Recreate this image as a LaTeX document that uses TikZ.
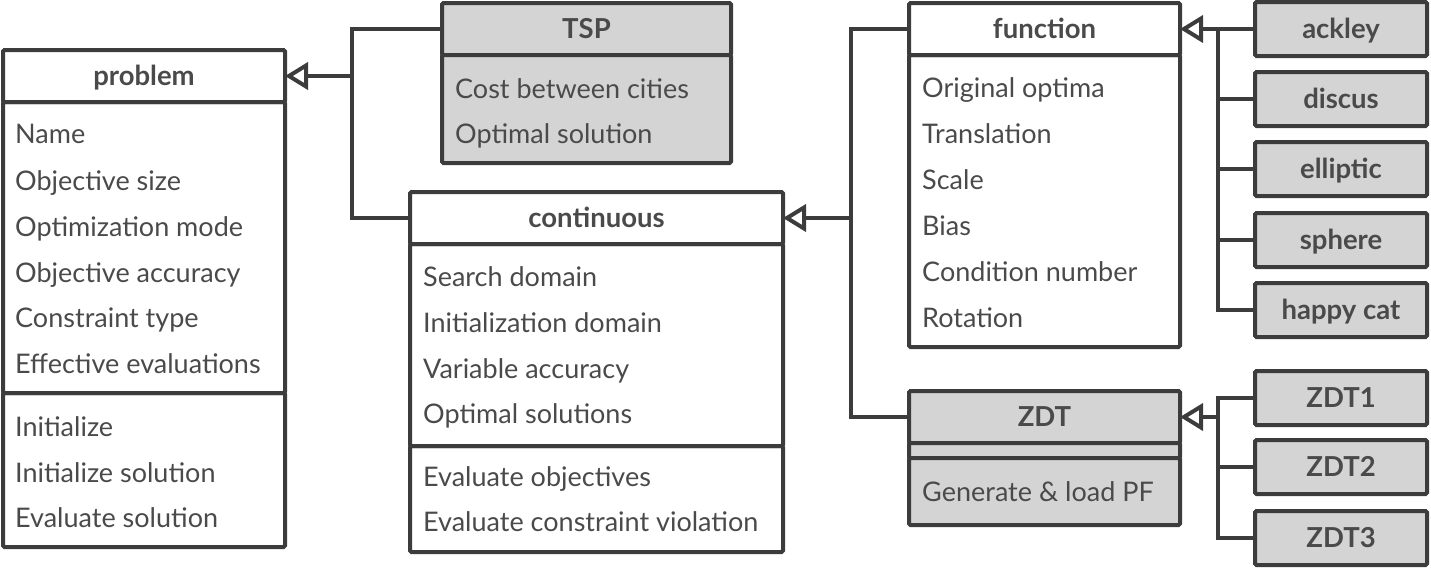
\documentclass[tikz,border=0pt]{standalone}
\usepackage{fontspec}
\setmainfont{Lato}
\usetikzlibrary{arrows.meta}
\definecolor{ln}{HTML}{3C3C3C}
\definecolor{tx}{HTML}{4A4A4A}
\definecolor{gf}{HTML}{D4D4D4}
\begin{document}
\begin{tikzpicture}[x=1pt,y=-1pt,
  box/.style={draw=ln, line width=4pt, rounded corners=1.5pt, anchor=north west,
    inner sep=0pt, outer sep=0pt, text=tx, font=\fontsize{27.5}{32}\selectfont\bfseries,
    text height=23pt, text depth=5pt},
  gbox/.style={box, fill=gf},
  attr/.style={anchor=base west, inner sep=0pt, text=tx, font=\fontsize{27}{32}\selectfont},
  conn/.style={draw=ln, line width=4pt},
  inh/.style={conn, -{Triangle[open, length=23pt, width=27pt, fill=white]}}]
\useasboundingbox (0,0) rectangle (1431,568);

% problem
\node[box, minimum width=282pt, minimum height=52pt] (problemh) at (3,50) {problem};
\node[box, minimum width=282pt, minimum height=291pt] (problema) at (3,102) {};
\node[box, minimum width=282pt, minimum height=154pt] (problemm) at (3,393) {};
\node[attr] (p1) at (15,143) {Name};
\node[attr] (p2) at (15,190) {Objective size};
\node[attr] (p3) at (15,236) {Optimization mode};
\node[attr] (p4) at (15,282) {Objective accuracy};
\node[attr] (p5) at (15,327) {Constraint type};
\node[attr] (p6) at (15,373) {Effective evaluations};
\node[attr] (p7) at (15,436) {Initialize};
\node[attr] (p8) at (15,482) {Initialize solution};
\node[attr] (p9) at (15,527) {Evaluate solution};

% TSP
\node[gbox, minimum width=289pt, minimum height=52pt] (tsph) at (442,3) {TSP};
\node[gbox, minimum width=289pt, minimum height=108pt] (tspa) at (442,55) {};
\node[attr] (t1) at (455,98) {Cost between cities};
\node[attr] (t2) at (455,143) {Optimal solution};

% continuous
\node[box, minimum width=373pt, minimum height=52pt] (conth) at (410,192) {continuous};
\node[box, minimum width=373pt, minimum height=202pt] (conta) at (410,244) {};
\node[box, minimum width=373pt, minimum height=106pt] (contm) at (410,446) {};
\node[attr] (c1) at (423,286) {Search domain};
\node[attr] (c2) at (423,332) {Initialization domain};
\node[attr] (c3) at (423,378) {Variable accuracy};
\node[attr] (c4) at (423,423) {Optimal solutions};
\node[attr] (c5) at (423,486) {Evaluate objectives};
\node[attr] (c6) at (423,531) {Evaluate constraint violation};

% function
\node[box, minimum width=271pt, minimum height=52pt] (funch) at (909,3) {function};
\node[box, minimum width=271pt, minimum height=292pt] (funca) at (909,55) {};
\node[attr] (f1) at (922,97) {Original optima};
\node[attr] (f2) at (922,143) {Translation};
\node[attr] (f3) at (922,189) {Scale};
\node[attr] (f4) at (922,235) {Bias};
\node[attr] (f5) at (922,281) {Condition number};
\node[attr] (f6) at (922,327) {Rotation};

% ZDT
\node[gbox, minimum width=271pt, minimum height=52pt] (zdth) at (909,391) {ZDT};
\node[gbox, minimum width=271pt, minimum height=15pt, text height=0pt, text depth=0pt] (zdte) at (909,443) {};
\node[gbox, minimum width=271pt, minimum height=67pt] (zdtm) at (909,458) {};
\node[attr] (z1) at (922,501) {Generate \& load PF};

% leaves
\node[gbox, minimum width=172pt, minimum height=54pt] (ackley) at (1255,2) {ackley};
\node[gbox, minimum width=172pt, minimum height=54pt] (discus) at (1255,72) {discus};
\node[gbox, minimum width=172pt, minimum height=54pt] (elliptic) at (1255,142) {elliptic};
\node[gbox, minimum width=172pt, minimum height=54pt] (sphere) at (1255,213) {sphere};
\node[gbox, minimum width=172pt, minimum height=54pt] (happy) at (1255,283) {happy cat};
\node[gbox, minimum width=172pt, minimum height=54pt] (zdt1) at (1255,371) {ZDT1};
\node[gbox, minimum width=172pt, minimum height=54pt] (zdt2) at (1255,440) {ZDT2};
\node[gbox, minimum width=172pt, minimum height=54pt] (zdt3) at (1255,511) {ZDT3};

% connectors
\coordinate (j1) at (352,76);
\coordinate (j2) at (851,218);
\coordinate (j3) at (1218,29);
\coordinate (j4) at (1218,417);

\draw[conn] (tsph.west) -| (j1) |- (conth.west);
\draw[inh] (j1) -- (problemh.east);

\draw[conn] (funch.west) -| (j2) |- (zdth.west);
\draw[inh] (j2) -- (conth.east);

\draw[conn] (ackley.west) -- (j3) |- (happy.west);
\draw[conn] (discus.west) -- (discus.west -| j3);
\draw[conn] (elliptic.west) -- (elliptic.west -| j3);
\draw[conn] (sphere.west) -- (sphere.west -| j3);
\draw[inh] (j3) -- (funch.east);

\draw[conn] (zdt1.west) -| (j4) |- (zdt3.west);
\draw[conn] (zdt2.west) -- (zdt2.west -| j4);
\draw[inh] (j4) -- (zdth.east);
\end{tikzpicture}
\end{document}
